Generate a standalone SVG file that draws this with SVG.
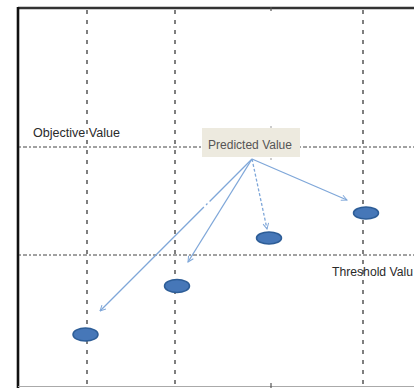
<svg xmlns="http://www.w3.org/2000/svg" width="414" height="388" viewBox="0 0 414 388">
  <style>
    .grid-v { stroke: #555; stroke-width: 1.5; stroke-dasharray: 4 6; fill: none; }
    .grid-h { stroke: #444; stroke-width: 1; stroke-dasharray: 2 2 4 2; fill: none; }
    .arrow { stroke: #7fa7d9; stroke-width: 1.3; fill: none; marker-end: url(#open-head); }
    .point { fill: #4677b8; stroke: #2d5d97; stroke-width: 1.5; }
    .label { font-family: "Liberation Sans", Arial, sans-serif; font-size: 12.5px; fill: #2a2a2a; }
  </style>
  <defs>
    <marker id="open-head" viewBox="0 0 10 10" refX="9" refY="5" markerWidth="7" markerHeight="7" orient="auto" markerUnits="userSpaceOnUse">
      <polyline points="1,1 9,5 1,9" fill="none" stroke="#7fa7d9" stroke-width="1.4"/>
    </marker>
  </defs>

  <rect width="414" height="388" fill="#fff"/>

  <!-- plot frame -->
  <g id="frame">
    <line x1="18" y1="8" x2="414" y2="8" stroke="#333" stroke-width="2.4"/>
    <line x1="18" y1="7" x2="18" y2="388" stroke="#111" stroke-width="2.6"/>
    <line x1="18" y1="386.5" x2="414" y2="386.5" stroke="#aaa" stroke-width="1"/>
    <line x1="271" y1="7" x2="271" y2="11" stroke="#555" stroke-width="1.2"/>
    <line x1="271" y1="383" x2="271" y2="388" stroke="#555" stroke-width="1.2"/>
    <line x1="271" y1="126" x2="271" y2="128" stroke="#999" stroke-width="1"/>
    <line x1="271" y1="158" x2="271" y2="160" stroke="#999" stroke-width="1"/>
  </g>

  <!-- guide lines -->
  <g id="grid">
    <line class="grid-v" x1="87" y1="10" x2="87" y2="386"/>
    <line class="grid-v" x1="175" y1="10" x2="175" y2="386"/>
    <line class="grid-v" x1="363" y1="10" x2="363" y2="386"/>
    <line class="grid-h" x1="19" y1="147" x2="414" y2="147"/>
    <line class="grid-h" x1="19" y1="255" x2="414" y2="255"/>
  </g>

  <g id="objective-label">
    <text class="label" x="33" y="137" textLength="87" lengthAdjust="spacingAndGlyphs">Objective Value</text>
  </g>
  <g id="threshold-label">
    <text class="label" x="332" y="276" textLength="81" lengthAdjust="spacingAndGlyphs">Threshold Valu</text>
  </g>

  <g id="predicted-value">
    <rect x="202" y="128" width="98" height="29" fill="#edeadf"/>
    <text class="label" x="208" y="148.5" style="fill:#555" textLength="84" lengthAdjust="spacingAndGlyphs">Predicted Value</text>
  </g>

  <g id="connectors">
    <path class="arrow" d="M252,159 L100,311" stroke-dasharray="60 3 2 3 200"/>
    <path class="arrow" d="M252,159 L188,262"/>
    <path class="arrow" d="M252,159 L267,229" stroke-dasharray="3 2"/>
    <path class="arrow" d="M252,159 L347,200"/>
  </g>

  <g id="point-1"><ellipse class="point" cx="85.5" cy="334.5" rx="12.5" ry="6.5"/></g>
  <g id="point-2"><ellipse class="point" cx="177" cy="286" rx="12.5" ry="6.5"/></g>
  <g id="point-3"><ellipse class="point" cx="269" cy="238" rx="12.5" ry="6"/></g>
  <g id="point-4"><ellipse class="point" cx="366" cy="213" rx="12.5" ry="6"/></g>
</svg>
